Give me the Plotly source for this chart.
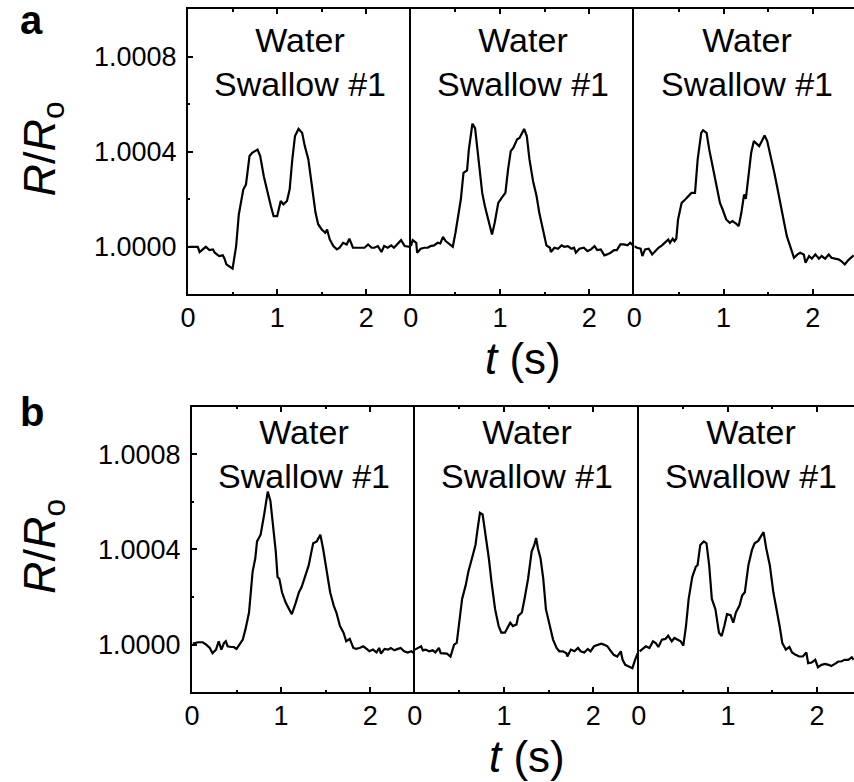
import plotly.graph_objects as go

W, H = 854, 782

# ---- data: time (s) and R/Ro deviation in units of 1e-4 ----
t_a1 = [0.01,0.11,0.13,0.20,0.24,0.28,0.30,0.33,0.35,0.39,0.41,0.43,0.46,0.50,0.54,0.57,0.62,0.65,0.69,0.72,0.78,0.81,0.85,0.89,0.93,0.96,1.00,1.04,1.07,1.11,1.14,1.17,1.20,1.24,1.28,1.31,1.35,1.39,1.43,1.46,1.50,1.54,1.56,1.59,1.63,1.67,1.70,1.74,1.78,1.81,1.85,1.91,1.98,2.02,2.06,2.09,2.13,2.17,2.20,2.24,2.28,2.31,2.35,2.39,2.43,2.46,2.49]
d_a1 = [0,0,-0.22,0,-0.14,-0.11,-0.25,-0.32,-0.39,-0.36,-0.50,-0.74,-0.81,-0.92,0.03,1.36,2.41,2.62,3.82,3.96,4.09,3.82,2.97,2.27,1.71,1.29,1.29,1.93,1.79,1.93,2.41,3.68,4.66,4.96,4.80,4.24,3.68,2.56,1.44,0.95,0.73,0.59,0.73,0.31,0.03,-0.11,-0.04,0.17,0.10,0.34,-0.04,-0.04,-0.04,0.10,-0.04,-0.04,0.03,-0.22,0.03,-0.04,0.06,-0.04,0.10,0.28,0.03,0,0]

t_a2 = [0,0.02,0.06,0.07,0.11,0.15,0.19,0.22,0.26,0.30,0.33,0.36,0.39,0.43,0.47,0.50,0.53,0.56,0.59,0.63,0.65,0.69,0.72,0.76,0.80,0.83,0.87,0.91,0.94,0.98,1.02,1.06,1.09,1.12,1.15,1.19,1.22,1.27,1.30,1.33,1.37,1.41,1.44,1.48,1.52,1.56,1.57,1.61,1.65,1.69,1.72,1.76,1.80,1.83,1.85,1.89,1.94,1.98,2.02,2.06,2.09,2.13,2.17,2.20,2.24,2.28,2.31,2.35,2.39,2.43,2.46,2.50]
d_a2 = [0.03,0.28,0.17,-0.25,-0.08,-0.04,-0.04,0.03,0.06,0.17,0.14,0.42,0.24,0.10,0,0.59,1.29,1.99,3.11,3.22,4.09,5.18,5.00,3.68,2.27,1.71,1.15,0.52,1.01,1.85,2.07,2.27,3.26,4.03,4.17,4.52,4.59,4.96,4.66,3.68,2.77,2.13,1.43,0.73,0.06,-0.04,-0.22,-0.04,-0.08,0.06,0,0.03,-0.08,-0.04,-0.25,-0.08,-0.04,-0.18,-0.11,0.03,-0.14,-0.11,-0.36,-0.32,-0.25,-0.14,-0.14,0.10,0.10,0.06,0.17,0.03]

t_a3 = [0,0.03,0.07,0.09,0.12,0.16,0.20,0.23,0.27,0.31,0.34,0.38,0.40,0.43,0.45,0.47,0.49,0.53,0.57,0.60,0.64,0.68,0.71,0.75,0.77,0.81,0.84,0.90,0.96,0.99,1.03,1.07,1.10,1.14,1.17,1.20,1.23,1.25,1.28,1.31,1.34,1.36,1.40,1.43,1.46,1.49,1.53,1.57,1.60,1.64,1.68,1.71,1.75,1.79,1.83,1.86,1.90,1.92,1.96,1.99,2.03,2.07,2.10,2.14,2.18,2.21,2.25,2.29,2.32,2.36,2.40,2.43,2.46]
d_a3 = [0.03,-0.04,-0.08,-0.39,-0.11,-0.08,-0.32,-0.18,-0.04,0.06,0.17,0.31,0.17,0.34,0.24,0.34,1.15,1.85,1.99,2.13,2.27,2.27,3.68,4.80,4.91,4.80,4.09,2.97,1.85,1.57,1.15,1.01,1.08,0.98,0.87,1.43,2.20,2.02,2.97,3.96,4.45,4.38,4.24,4.45,4.69,4.45,3.82,3.11,2.55,1.71,1.01,0.45,-0.04,-0.46,-0.32,-0.25,-0.32,-0.67,-0.39,-0.50,-0.32,-0.50,-0.39,-0.50,-0.32,-0.46,-0.50,-0.53,-0.60,-0.74,-0.56,-0.46,-0.36]

t_b1 = [0.01,0.07,0.12,0.16,0.20,0.23,0.27,0.30,0.33,0.36,0.38,0.40,0.44,0.47,0.50,0.53,0.57,0.60,0.64,0.68,0.71,0.73,0.77,0.81,0.83,0.85,0.88,0.91,0.94,0.96,0.98,1.01,1.05,1.09,1.12,1.16,1.20,1.23,1.27,1.31,1.34,1.36,1.40,1.44,1.47,1.51,1.55,1.59,1.62,1.66,1.70,1.73,1.77,1.81,1.84,1.88,1.92,1.96,1.99,2.03,2.07,2.10,2.12,2.16,2.20,2.23,2.27,2.31,2.34,2.38,2.42,2.46,2.49]
d_b1 = [0.04,0.10,0.10,0,-0.14,-0.36,-0.21,0.14,-0.21,0.07,0.14,-0.07,-0.10,-0.10,-0.18,0,0.21,0.64,1.35,3.06,3.62,4.34,4.62,5.47,6.04,6.43,6.04,5.05,3.91,2.84,2.77,2.20,1.78,1.49,1.28,1.71,2.20,2.42,2.91,3.34,3.91,4.26,4.34,4.62,4.05,3.06,2.20,1.64,1.35,0.78,0.50,0.14,0.24,-0.14,-0.18,-0.14,-0.07,-0.18,-0.28,-0.21,-0.33,-0.14,-0.38,-0.18,-0.21,-0.14,-0.24,-0.18,-0.14,-0.28,-0.33,-0.28,-0.36]

t_b2 = [0,0.03,0.07,0.09,0.12,0.16,0.20,0.23,0.27,0.29,0.33,0.36,0.40,0.44,0.47,0.49,0.53,0.57,0.60,0.64,0.68,0.70,0.73,0.76,0.79,0.83,0.86,0.90,0.94,0.97,1.01,1.05,1.07,1.10,1.14,1.16,1.20,1.23,1.27,1.31,1.34,1.36,1.38,1.41,1.44,1.47,1.51,1.55,1.59,1.62,1.66,1.70,1.71,1.75,1.79,1.83,1.86,1.90,1.94,1.97,2.01,2.05,2.09,2.12,2.16,2.20,2.23,2.27,2.31,2.33,2.36,2.40,2.44,2.47,2.50]
d_b2 = [-0.21,-0.14,-0.07,-0.24,-0.21,-0.28,-0.24,-0.33,-0.14,-0.36,-0.38,-0.38,-0.50,0,0.07,0.78,1.92,2.49,3.06,3.62,4.19,4.76,5.54,5.47,4.76,3.62,2.63,1.49,0.78,0.50,0.50,0.78,0.92,0.78,0.85,1.21,1.35,1.92,2.77,3.91,4.19,4.48,4.05,3.62,2.77,1.49,0.78,0.21,-0.14,-0.28,-0.28,-0.36,-0.50,-0.21,-0.28,-0.14,-0.28,-0.33,-0.18,-0.28,-0.07,0,0.04,0,-0.07,-0.28,-0.43,-0.50,-0.28,-0.64,-0.85,-0.92,-0.99,-0.64,-0.36]

t_b3 = [0.01,0.04,0.08,0.12,0.16,0.19,0.22,0.26,0.30,0.33,0.37,0.40,0.43,0.47,0.50,0.53,0.56,0.60,0.64,0.66,0.69,0.73,0.76,0.79,0.82,0.86,0.90,0.93,0.96,0.99,1.03,1.06,1.09,1.13,1.16,1.19,1.23,1.27,1.30,1.34,1.37,1.40,1.43,1.47,1.51,1.54,1.58,1.61,1.65,1.69,1.72,1.76,1.80,1.84,1.88,1.90,1.94,1.98,2.01,2.05,2.09,2.13,2.16,2.20,2.24,2.27,2.31,2.35,2.39,2.41]
d_b3 = [-0.28,-0.18,-0.07,-0.14,0.14,0.07,-0.10,0.21,0.24,0.38,0.14,0.28,0.21,0.14,-0.04,0.78,1.92,2.84,3.27,3.34,4.19,4.34,4.26,3.34,1.92,1.49,0.50,0.36,0.78,1.28,1.24,0.92,1.35,1.64,2.06,2.20,3.34,3.98,4.26,4.36,4.55,4.73,4.05,3.34,2.20,1.64,0.78,0.07,-0.21,-0.10,-0.33,-0.43,-0.50,-0.50,-0.33,-0.78,-0.75,-0.64,-0.95,-0.85,-0.81,-0.85,-0.90,-0.81,-0.71,-0.71,-0.64,-0.64,-0.53,-0.64]

panel_labels = ["a", "b"]
panel_text = "Water<br>Swallow #1"
ytick_vals = [1.0000, 1.0004, 1.0008]
ytick_text = ["1.0000", "1.0004", "1.0008"]
xtick_vals = [0, 1, 2]
xtick_text = ["0", "1", "2"]
x_title = "<i>t</i> (s)"
y_title = "<i>R</i>/<i>R</i><sub>o</sub>"

series = [(t_a1, d_a1), (t_a2, d_a2), (t_a3, d_a3),
          (t_b1, d_b1), (t_b2, d_b2), (t_b3, d_b3)]

# ---- layout geometry (pixels) ----
rows = [
    dict(top=9.3, bottom=294.3, xs=[181.7, 406.7, 632.3, 854.0]),
    dict(top=406.7, bottom=692.2, xs=[185.7, 410.7, 636.7, 854.0]),
]
PX_PER_S = 90.0
FONT = "Liberation Sans, Arial, sans-serif"
TICK_FS = 27

fig = go.Figure()
layout = dict(width=W, height=H, margin=dict(l=0, r=0, t=0, b=0),
              paper_bgcolor="white", plot_bgcolor="white", showlegend=False,
              font=dict(family=FONT, color="black"))
annotations = []

k = 0
for r, row in enumerate(rows):
    yd = [1 - row["bottom"] / H, 1 - row["top"] / H]
    for c in range(3):
        k += 1
        x0, x1 = row["xs"][c], row["xs"][c + 1]
        t, d = series[k - 1]
        y = [1 + v * 1e-4 for v in d]
        fig.add_trace(go.Scatter(x=t, y=y, mode="lines",
                                 line=dict(color="black", width=2.2),
                                 xaxis=f"x{k}", yaxis=f"y{k}", hoverinfo="skip"))
        xa = dict(domain=[x0 / W, x1 / W], range=[0, (x1 - x0) / PX_PER_S],
                  anchor=f"y{k}", showgrid=False, zeroline=False,
                  showline=True, linecolor="black", linewidth=2, mirror="ticks",
                  ticks="inside", ticklen=5, tickwidth=1.5, tickcolor="black",
                  tickvals=xtick_vals, ticktext=xtick_text,
                  tickfont=dict(size=TICK_FS, family=FONT, color="black"),
                  ticklabelstandoff=-2,
                  minor=dict(ticks="inside", ticklen=2.5, tickwidth=1.5,
                             tickcolor="black", dtick=0.5, tick0=0, showgrid=False))
        ya = dict(domain=yd, range=[0.9998, 1.0010], anchor=f"x{k}",
                  showgrid=False, zeroline=False, showline=True,
                  linecolor="black", linewidth=2, mirror=False)
        if c == 0:
            ya.update(ticks="inside", ticklen=5, tickwidth=1.5, tickcolor="black",
                      tickvals=ytick_vals, ticktext=ytick_text,
                      tickfont=dict(size=TICK_FS, family=FONT, color="black"),
                      ticklabelstandoff=4,
                      minor=dict(ticks="inside", ticklen=2.5, tickwidth=1.5,
                                 tickcolor="black", tickvals=[1.0002, 1.0006],
                                 showgrid=False))
        else:
            ya.update(ticks="", showticklabels=False)
        sfx = "" if k == 1 else str(k)
        layout["xaxis" + sfx] = xa
        layout["yaxis" + sfx] = ya
        annotations.append(dict(text=panel_text, x=1.26, y=1.00078 if r == 0 else 1.0008,
                                xref=f"x{k}", yref=f"y{k}", showarrow=False,
                                xanchor="center", yanchor="middle",
                                font=dict(size=34, family=FONT, color="black")))
    # x title under middle panel
    xm = (row["xs"][1] + row["xs"][2]) / 2
    ty = 358 if r == 0 else 756
    annotations.append(dict(text=x_title, x=xm / W, y=1 - ty / H, xref="paper", yref="paper",
                            showarrow=False, xanchor="center", yanchor="middle",
                            font=dict(size=44, family=FONT, color="black")))
    # y title
    yc = (row["top"] + row["bottom"]) / 2 - 3
    annotations.append(dict(text=y_title, x=35 / W, y=1 - yc / H, xref="paper", yref="paper",
                            showarrow=False, xanchor="center", yanchor="middle", textangle=-90,
                            font=dict(size=45, family=FONT, color="black")))
    # panel letter
    ly = 20 if r == 0 else 412
    annotations.append(dict(text=f"<b>{panel_labels[r]}</b>", x=24 / W, y=1 - ly / H,
                            xref="paper", yref="paper", showarrow=False,
                            xanchor="center", yanchor="middle",
                            font=dict(size=40, family=FONT, color="black")))

layout["annotations"] = annotations
fig.update_layout(**layout)
fig.write_html("out.html")
